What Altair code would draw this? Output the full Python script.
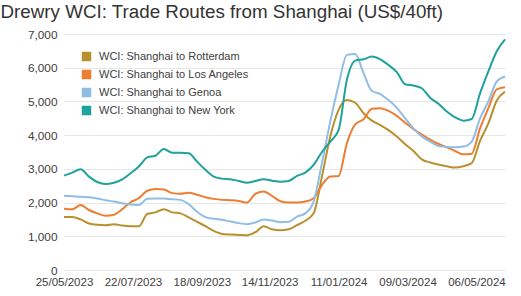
import altair as alt
import pandas as pd

start_date = "2023-05-25"
n_weeks = 54

rotterdam = [1570, 1570, 1500, 1380, 1340, 1330, 1360, 1320, 1300, 1300,
             1660, 1710, 1800, 1710, 1680, 1560, 1430, 1300, 1160, 1070,
             1050, 1040, 1030, 1120, 1300, 1210, 1180, 1210, 1330, 1460,
             1680, 2770, 3960, 4750, 5040, 4960, 4650, 4430, 4300, 4150,
             3960, 3730, 3530, 3280, 3190, 3130, 3080, 3040, 3080, 3170,
             3830, 4350, 5020, 5290]
los_angeles = [1820, 1800, 1930, 1780, 1680, 1610, 1640, 1800, 2010, 2130,
               2350, 2400, 2390, 2280, 2260, 2290, 2230, 2160, 2110, 2080,
               2070, 2050, 2000, 2260, 2330, 2200, 2040, 2000, 2000, 2030,
               2130, 2520, 2770, 2790, 3760, 4320, 4470, 4780, 4800, 4720,
               4570, 4370, 4180, 4020, 3870, 3740, 3640, 3530, 3430, 3450,
               4200, 4800, 5360, 5420]
genoa = [2200, 2190, 2170, 2160, 2120, 2070, 2030, 1980, 1940, 1930,
         2110, 2120, 2120, 2100, 2080, 1950, 1730, 1570, 1520, 1490,
         1440, 1390, 1360, 1410, 1500, 1470, 1420, 1430, 1580, 1680,
         2030, 3170, 4400, 5490, 6380, 6410, 5840, 5310, 5220, 5040,
         4810, 4500, 4200, 3960, 3810, 3680, 3650, 3640, 3660, 3810,
         4500, 5000, 5590, 5740]
new_york = [2800, 2890, 2990, 2770, 2610, 2550, 2590, 2690, 2870, 3070,
            3340, 3390, 3590, 3480, 3480, 3460, 3210, 2970, 2770, 2710,
            2690, 2640, 2590, 2640, 2690, 2650, 2620, 2640, 2790, 2890,
            3120, 3500, 3810, 4150, 5640, 6210, 6250, 6330, 6250, 6080,
            5870, 5510, 5470, 5390, 5110, 4930, 4700, 4530, 4430, 4480,
            5240, 5890, 6480, 6840]

series_names = ["WCI: Shanghai to Rotterdam", "WCI: Shanghai to Los Angeles",
                "WCI: Shanghai to Genoa", "WCI: Shanghai to New York"]
series_colors = ["#B8912F", "#ED7D31", "#90BDE5", "#1FA19C"]
tick_dates = [(2023, 5, 25), (2023, 7, 22), (2023, 9, 18), (2023, 11, 14),
              (2024, 1, 11), (2024, 3, 9), (2024, 5, 6)]

dates = pd.date_range(start_date, periods=n_weeks, freq="7D").strftime("%Y-%m-%d")
frames = []
for name, vals in zip(series_names, [rotterdam, los_angeles, genoa, new_york]):
    frames.append(pd.DataFrame({"date": dates, "value": vals, "route": name}))
df = pd.concat(frames, ignore_index=True)

font = "Liberation Sans"

x_enc = alt.X("date:T", title=None,
              scale=alt.Scale(type="utc",
                              domain=[alt.DateTime(year=2023, month=5, date=25, utc=True),
                                      alt.DateTime(year=2024, month=5, date=30, utc=True)]),
              axis=alt.Axis(values=[alt.DateTime(year=y, month=m, date=d, utc=True) for y, m, d in tick_dates],
                            labelExpr="utcFormat(datum.value, '%d/%m/%Y')",
                            domain=False, ticks=False, labelFlush=False,
                            grid=False, labelFontSize=11.5, labelColor="#404040",
                            labelPadding=6, labelFont=font, labelOverlap=False))
y_enc = alt.Y("value:Q", title=None,
              scale=alt.Scale(domain=[0, 7000], nice=False),
              axis=alt.Axis(values=list(range(0, 7001, 1000)),
                            labelExpr="format(datum.value, ',')",
                            domain=False,
                            ticks=False, gridColor="#E6E6E6", labelFontSize=11.8,
                            labelColor="#404040", labelPadding=7, labelFont=font))
color_enc = alt.Color("route:N", title=None,
                      scale=alt.Scale(domain=series_names, range=series_colors),
                      legend=alt.Legend(orient="none", legendX=17, legendY=17,
                                        symbolType="square", symbolSize=90,
                                        symbolStrokeWidth=0, symbolOpacity=1,
                                        labelFontSize=11, labelFont=font, labelColor="#404040",
                                        labelOffset=7, rowPadding=6, padding=0))

base = alt.Chart(df).encode(x=x_enc, y=y_enc, color=color_enc)
lines = base.mark_line(strokeWidth=2, interpolate="monotone")
swatches = base.mark_point(shape="square", filled=True, size=0, opacity=1)

chart = alt.layer(lines, swatches).properties(
    width=441, height=236,
    title=alt.TitleParams("Drewry WCI: Trade Routes from Shanghai (US$/40ft)",
                          anchor="start", dx=-27, offset=0, baseline="top", dy=-7,
                          fontSize=18.8, font=font, fontWeight="normal", color="#333333"),
    autosize=alt.AutoSizeParams(type="none"),
    padding={"left": 64, "top": 34, "right": 16, "bottom": 26},
).configure_view(stroke=None)

chart.save("out.html", embed_options={"renderer": "svg", "actions": False})
